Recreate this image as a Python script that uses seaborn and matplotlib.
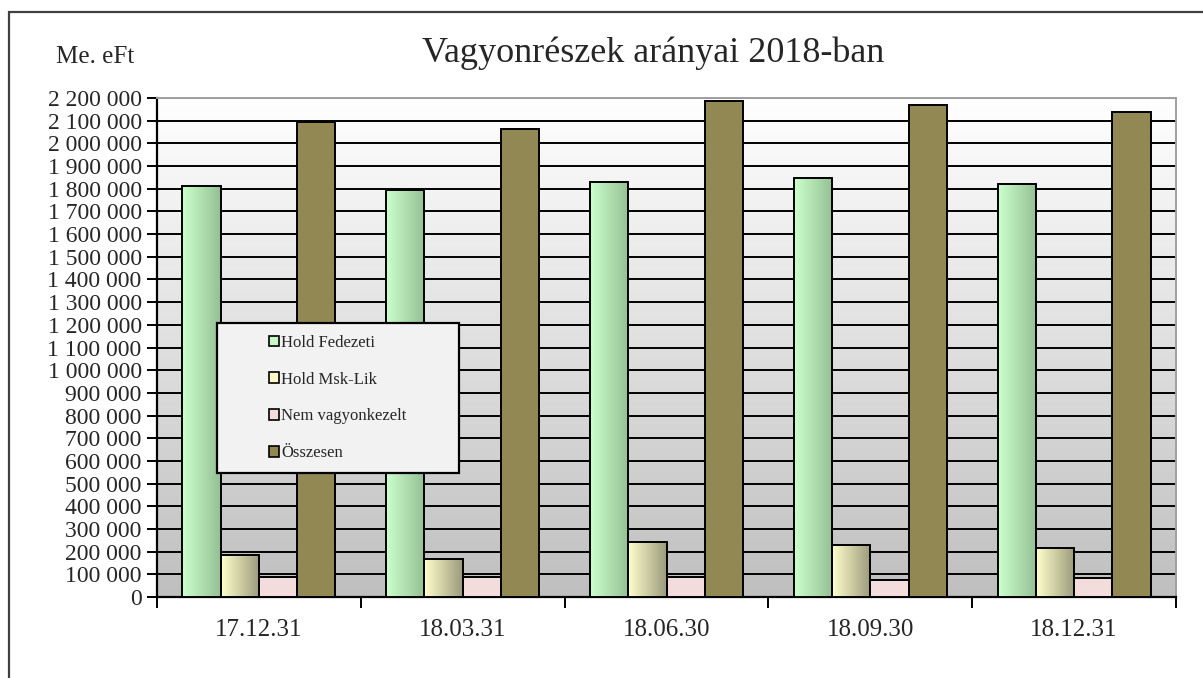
import numpy as np
import pandas as pd
import seaborn as sns
import matplotlib.pyplot as plt
from matplotlib.patches import Rectangle
from matplotlib.ticker import FuncFormatter, MultipleLocator, FixedLocator

dates = ['17.12.31', '18.03.31', '18.06.30', '18.09.30', '18.12.31']
series = ['Hold Fedezeti', 'Hold Msk-Lik', 'Nem vagyonkezelt', 'Összesen']
hold_fedezeti = [1814000, 1794000, 1830000, 1847000, 1821000]
hold_msk_lik = [185000, 168000, 242000, 229000, 216000]
nem_vagyonkezelt = [88000, 88000, 88000, 76000, 84000]
osszesen = [2094000, 2063000, 2187000, 2169000, 2138000]

rows = []
for name, vals in zip(series, [hold_fedezeti, hold_msk_lik, nem_vagyonkezelt, osszesen]):
    for d, v in zip(dates, vals):
        rows.append({'date': d, 'value': v, 'series': name})
df = pd.DataFrame(rows)

sns.set_theme(style='white')
plt.rcParams['font.family'] = ['Liberation Serif', 'DejaVu Serif']

W, H = 1203, 678
fig = plt.figure(figsize=(W / 100, H / 100), dpi=100)
ax = fig.add_axes([157 / W, 1 - 597 / H, (1176 - 157) / W, (597 - 98) / H])

pal = ['#c8f8c8', '#fbfbc8', '#f2dcdc', '#928853']
sns.barplot(data=df, x='date', y='value', hue='series', hue_order=series,
            palette=pal, width=0.75, edgecolor='black', linewidth=1.4,
            saturation=1, ax=ax, zorder=3)

# gradient fill for the first two series
grads = {0: ('#ccffcc', '#94c094'), 1: ('#ffffcc', '#9c9a7c')}
for i, (c0, c1) in grads.items():
    a = np.array(plt.matplotlib.colors.to_rgb(c0))
    b = np.array(plt.matplotlib.colors.to_rgb(c1))
    t = np.linspace(0, 1, 64)[None, :, None]
    img = a + (b - a) * t
    for p in ax.containers[i]:
        x0, y0 = p.get_x(), p.get_y()
        im = ax.imshow(img, extent=[x0, x0 + p.get_width(), y0, y0 + p.get_height()],
                       aspect='auto', zorder=3.5, interpolation='bilinear')
        im.set_clip_path(p)
        p.set_zorder(3.6)
        p.set_facecolor('none')

# plot area background gradient
bg = np.linspace(1.0, 0.75, 128)[:, None, None] * np.ones((1, 1, 3))
ax.imshow(bg, extent=[0, 1, 0, 1], transform=ax.transAxes, aspect='auto', zorder=0)

ax.set_xlim(-0.5, 4.5)
ax.set_ylim(0, 2200000)
ax.yaxis.set_major_locator(MultipleLocator(100000))
ax.yaxis.set_major_formatter(FuncFormatter(lambda v, p: f'{int(v):,}'.replace(',', ' ')))
ax.grid(axis='y', color='black', linewidth=1.4, zorder=1)
ax.set_axisbelow(True)

ax.tick_params(axis='y', which='major', direction='out', length=7, width=1.4,
               color='black', left=True, labelsize=17, pad=4)
ax.xaxis.set_minor_locator(FixedLocator([-0.5, 0.5, 1.5, 2.5, 3.5, 4.5]))
ax.tick_params(axis='x', which='major', length=0, labelsize=18, pad=16)
ax.tick_params(axis='x', which='minor', direction='out', length=8, width=1.4,
               color='black', bottom=True)
ax.set_xlabel('')
ax.set_ylabel('')

for s in ['left', 'bottom']:
    ax.spines[s].set_color('black')
    ax.spines[s].set_linewidth(1.6)
for s in ['top', 'right']:
    ax.spines[s].set_color('#a0a0a0')
    ax.spines[s].set_linewidth(1.4)

# legend
handles, labels = ax.get_legend_handles_labels()
ax.get_legend().remove()
fig.patches.append(Rectangle((217 / W, 1 - 473 / H), (459 - 217) / W, (473 - 323) / H,
                             transform=fig.transFigure, facecolor='#f2f2f2',
                             edgecolor='black', linewidth=1.6, zorder=5))
leg = fig.legend(handles, labels, loc='center', bbox_to_anchor=(338 / W, 1 - 398 / H),
                 frameon=False, fontsize=12, handlelength=0.6, handleheight=0.6,
                 handletextpad=0.1, labelspacing=1.25)
leg.set_zorder(6)
for h in leg.legend_handles:
    h.set_edgecolor('black')
    h.set_linewidth(1.2)

fig.text(653 / W, 1 - 53 / H, 'Vagyonrészek arányai 2018-ban', ha='center',
         va='center', fontsize=26)
fig.text(95 / W, 1 - 57 / H, 'Me. eFt', ha='center', va='center', fontsize=18)

fig.patches.append(Rectangle((9 / W, -0.1), 1.2, 1.1 - 12 / H + 0.0,
                             transform=fig.transFigure, facecolor='none',
                             edgecolor='#404040', linewidth=1.6))

fig.savefig('out.png', dpi=100)
